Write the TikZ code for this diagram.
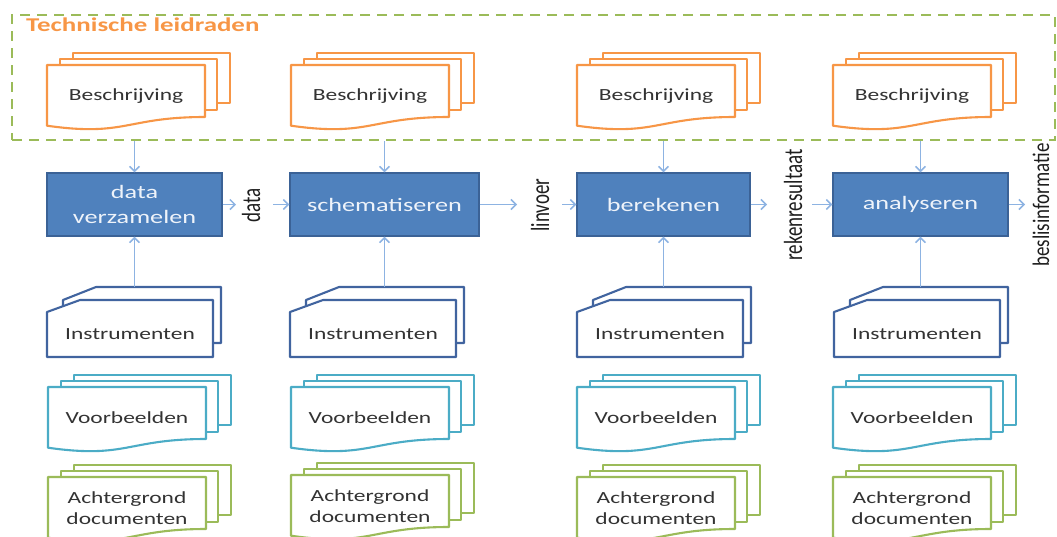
\documentclass[tikz,border=0pt]{standalone}
\usepackage{fontspec}
\setmainfont{Carlito}
\usepackage{graphicx}
\usetikzlibrary{arrows.meta}

\definecolor{boxblue}{HTML}{4F81BD}
\definecolor{boxedge}{HTML}{3B6296}
\definecolor{boxtext}{HTML}{EEF3FA}
\definecolor{flowarrow}{HTML}{8DB3E2}
\definecolor{docorange}{HTML}{F79646}
\definecolor{docblue}{HTML}{41649F}
\definecolor{docaqua}{HTML}{4BACC6}
\definecolor{docgreen}{HTML}{9BBB59}
\definecolor{labelgray}{HTML}{333333}
\definecolor{sidegray}{HTML}{1E1E1E}

% text set wide (horizontal) and its counterpart for text turned upright
\newcommand\wide[1]{\scalebox{1.38}[1]{#1}}
\newcommand\tall[1]{\scalebox{1}[1.38]{#1}}

% three stacked documents with a wavy lower edge
\newcommand\stackdoc[5]{%
  \begin{scope}[shift={(#1,#2)}, draw=#3, fill=white, line width=2.1pt, line join=round]
    \filldraw (26,-12) rectangle (183,38);
    \filldraw (13,-6) rectangle (170,45);
    \filldraw (0,0) -- (158,0) -- (158,52) .. controls (79,52) and (79,72) .. (0,60.7) -- cycle;
    \node[doclabel] (#4) at (79,31) {#5};
  \end{scope}}

% two stacked punched cards
\newcommand\stackcard[5]{%
  \begin{scope}[shift={(#1,#2)}, draw=#3, fill=white, line width=2.1pt, line join=round]
    \filldraw (16,0) -- (49,-13) -- (174,-13) -- (174,43) -- (16,43) -- cycle;
    \filldraw (0,12) -- (33,0) -- (166,0) -- (166,57) -- (0,57) -- cycle;
    \coordinate (#4top) at (87,-13);
    \node[doclabel] (#4) at (83,34) {#5};
  \end{scope}}

\begin{document}
\begin{tikzpicture}[x=1pt, y=-1pt,
  doclabel/.style={inner sep=0, align=center, text=labelgray,
    font=\fontsize{17}{21}\selectfont},
  procbox/.style={draw=boxedge, fill=boxblue, line width=1.3pt, inner sep=0,
    minimum height=63pt, text=boxtext, align=center,
    font=\fontsize{19}{25}\selectfont},
  sidelabel/.style={rotate=90, inner sep=0, text=sidegray,
    font=\fontsize{19}{23}\selectfont},
  flow/.style={draw=flowarrow, line width=1.5pt,
    -{Straight Barb[length=5pt,width=10pt,line width=1.5pt]}},
]
\useasboundingbox (0,0) rectangle (1057,536);

% frame of the technical guidelines
\node[draw=docgreen, line width=2.6pt, dash pattern=on 10pt off 7pt,
  minimum width=1043pt, minimum height=125pt, inner sep=0] (frame) at (533.5,77.5) {};
\node[anchor=west, inner sep=0, text=docorange,
  font=\bfseries\fontsize{19.5}{23}\selectfont] (title) at (26,25) {\wide{Technische leidraden}};

% descriptions
\stackdoc{47}{65}{docorange}{d1}{\wide{Beschrijving}}
\stackdoc{291}{65}{docorange}{d2}{\wide{Beschrijving}}
\stackdoc{577}{65}{docorange}{d3}{\wide{Beschrijving}}
\stackdoc{833}{65}{docorange}{d4}{\wide{Beschrijving}}

% process steps
\node[procbox, minimum width=175pt] (b1) at (134.5,204.5) {\wide{data}\\\wide{verzamelen}};
\node[procbox, minimum width=189pt] (b2) at (384.5,204.5) {\wide{schematiseren}};
\node[procbox, minimum width=173pt] (b3) at (663.5,204.5) {\wide{berekenen}};
\node[procbox, minimum width=175pt] (b4) at (920.5,204.5) {\wide{analyseren}};

% intermediate products
\node[sidelabel] (l1) at (251,205) {\tall{data}};
\node[sidelabel] (l2) at (540,205) {\tall{linvoer}};
\node[sidelabel] (l3) at (793,205) {\tall{rekenresultaat}};
\node[sidelabel] (l4) at (1041,205) {\scalebox{1}[1.25]{beslisinformatie}};

% instruments, examples, background documents
\stackcard{47}{300}{docblue}{i1}{\wide{Instrumenten}}
\stackcard{290}{300}{docblue}{i2}{\wide{Instrumenten}}
\stackcard{577}{300}{docblue}{i3}{\wide{Instrumenten}}
\stackcard{834}{300}{docblue}{i4}{\wide{Instrumenten}}

\stackdoc{48}{387}{docaqua}{v1}{\wide{Voorbeelden}}
\stackdoc{291}{387}{docaqua}{v2}{\wide{Voorbeelden}}
\stackdoc{577}{387}{docaqua}{v3}{\wide{Voorbeelden}}
\stackdoc{833}{387}{docaqua}{v4}{\wide{Voorbeelden}}

\stackdoc{48}{477}{docgreen}{a1}{\wide{Achtergrond}\\\wide{documenten}}
\stackdoc{291}{475}{docgreen}{a2}{\wide{Achtergrond}\\\wide{documenten}}
\stackdoc{577}{477}{docgreen}{a3}{\wide{Achtergrond}\\\wide{documenten}}
\stackdoc{833}{477}{docgreen}{a4}{\wide{Achtergrond}\\\wide{documenten}}

% free ends of the flow arrows around the side labels
\coordinate (o1) at (236,204.5);
\coordinate (n2) at (273,204.5);
\coordinate (o2) at (517,204.5);
\coordinate (n3) at (562,204.5);
\coordinate (o3) at (767,204.5);
\coordinate (n4) at (812,204.5);
\coordinate (o4) at (1025,204.5);

% horizontal flow
\draw[flow] (b1.east) -- (o1);
\draw[flow] (n2) -- (b2.west);
\draw[flow] (b2.east) -- (o2);
\draw[flow] (n3) -- (b3.west);
\draw[flow] (b3.east) -- (o3);
\draw[flow] (n4) -- (b4.west);
\draw[flow] (b4.east) -- (o4);

% guidelines feed each step from above, instruments from below
\foreach \k in {1,2,3,4}{
  \draw[flow] (frame.south -| b\k.north) -- (b\k.north);
  \draw[flow] (i\k top -| b\k.south) -- (b\k.south);
}
\end{tikzpicture}
\end{document}
